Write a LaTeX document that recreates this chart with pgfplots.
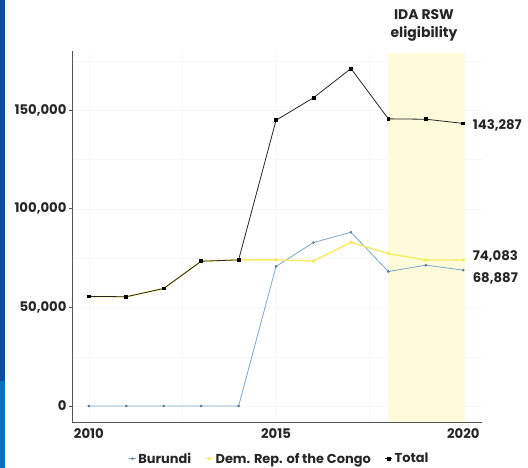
\documentclass[border=0pt]{standalone}
\usepackage{pgfplots}
\pgfplotsset{compat=1.18}
\usepackage{fontspec}
\setmainfont{Poppins}
\definecolor{burundi}{HTML}{7FA6C8}
\definecolor{burundimark}{HTML}{5E7F9E}
\definecolor{drc}{HTML}{F4EC66}
\definecolor{band}{HTML}{FEFBDA}
\definecolor{stripdark}{HTML}{0D4EA3}
\definecolor{striplight}{HTML}{0A6FBF}
\definecolor{axisgray}{HTML}{555555}
\begin{document}
\begin{tikzpicture}
\useasboundingbox (0,0) rectangle (528bp,468bp);
\fill[stripdark] (0,87bp) rectangle (5bp,468bp);
\fill[striplight] (0,0) rectangle (5bp,87bp);
\node[font=\bfseries\fontsize{14}{18}\selectfont, align=center, text=black!85] at (424bp,443bp) {IDA RSW\\eligibility};
\begin{axis}[
  at={(72bp,46bp)}, anchor=south west,
  scale only axis, width=410bp, height=371bp,
  xmin=2009.55, xmax=2020.5, ymin=-8100, ymax=180000,
  axis x line*=bottom, axis y line*=left,
  axis line style={-, axisgray, line width=0.7pt},
  xtick={2010,2015,2020}, minor xtick={2012.5,2017.5},
  xticklabels={2010,2015,2020},
  ytick={0,50000,100000,150000}, minor ytick={25000,75000,125000,175000},
  yticklabels={0,{50,000},{100,000},{150,000}},
  scaled y ticks=false,
  grid=both, major grid style={black!3}, minor grid style={black!3},
  xtick style={draw=none}, minor tick length=0pt,
  ytick style={axisgray, line width=0.6pt}, major tick length=3bp, tick align=outside,
  ticklabel style={font=\bfseries\fontsize{13.3}{15}\selectfont, text=black!85},
  yticklabel style={xshift=1bp},
  legend columns=3,
  legend style={at={(0.506,-0.099)}, anchor=center, draw=none, fill=none,
    font=\bfseries\fontsize{13}{15}\selectfont, text=black!85,
    /tikz/every even column/.append style={column sep=12bp}},
  legend image code/.code={\draw[#1] (0bp,0bp) -- (7bp,0bp); \draw[#1, only marks] plot coordinates {(3.5bp,0bp)};},
  clip=false,
]
\fill[band] (axis cs:2018,-8100) rectangle (axis cs:2020.05,179000);
\addplot[burundi, line width=0.8pt, mark=*, mark size=0.9pt, mark options={fill=burundimark, draw=burundimark}] coordinates {
(2010,0) (2011,0) (2012,0) (2013,0) (2014,0) (2015,70800)
(2016,82900) (2017,88100) (2018,68200) (2019,71400) (2020,68887)};
\addplot[drc, line width=1.4pt, mark=*, mark size=1pt, mark options={fill=drc, draw=drc}] coordinates {
(2010,55500) (2011,55400) (2012,59600) (2013,73400) (2014,74100) (2015,74100)
(2016,73500) (2017,83000) (2018,77300) (2019,74000) (2020,74083)};
\addplot[black!85, line width=0.8pt, mark=square*, mark size=1.4pt, mark options={fill=black, draw=black}] coordinates {
(2010,55600) (2011,55400) (2012,59600) (2013,73400) (2014,74100) (2015,144900)
(2016,156300) (2017,171100) (2018,145600) (2019,145400) (2020,143287)};
\legend{Burundi, Dem. Rep. of the Congo, Total}
\node[anchor=west, font=\bfseries\fontsize{13.3}{15}\selectfont, text=black!85, xshift=6bp] at (axis cs:2020,142300) {143,287};
\node[anchor=west, font=\bfseries\fontsize{13.3}{15}\selectfont, text=black!85, xshift=6bp] at (axis cs:2020,75800) {74,083};
\node[anchor=west, font=\bfseries\fontsize{13.3}{15}\selectfont, text=black!85, xshift=6bp] at (axis cs:2020,64600) {68,887};
\end{axis}
\end{tikzpicture}
\end{document}
